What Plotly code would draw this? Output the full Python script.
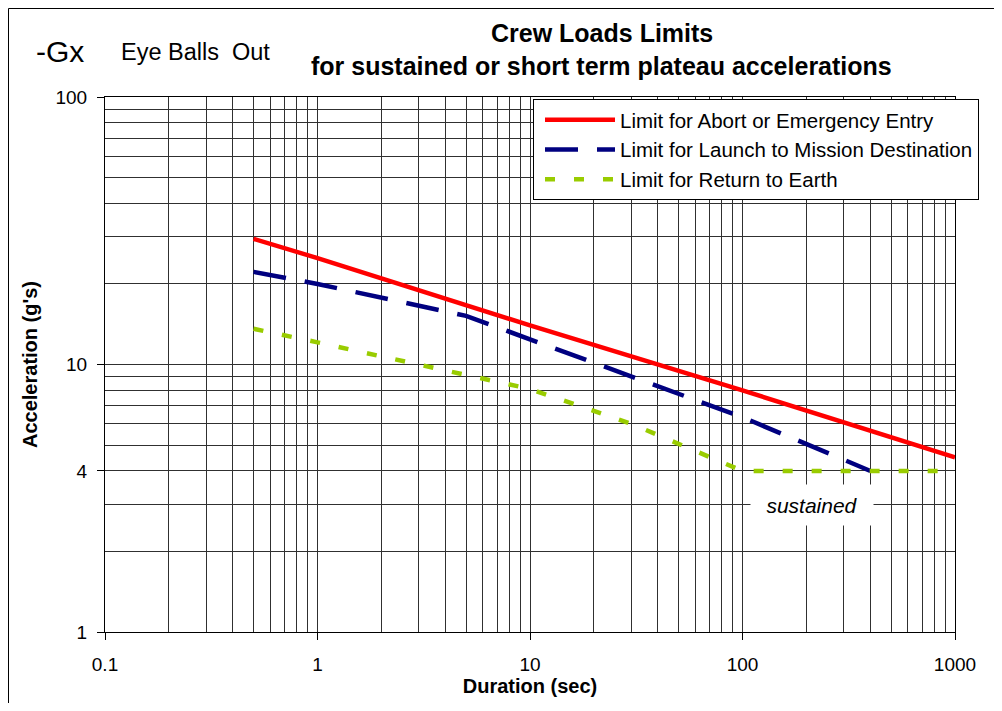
import plotly.graph_objects as go

# ---------------- data ----------------
dur_abort = [0.5, 1, 10, 100, 1000]
acc_abort = [29.5, 25, 14, 8, 4.5]

dur_launch = [0.5, 1, 5, 10, 100, 400]
acc_launch = [22.2, 20, 15.2, 12.4, 6.35, 4.0]

dur_return = [0.5, 1, 10, 30, 100, 1000]
acc_return = [13.6, 12.1, 8.1, 6.0, 4.0, 4.0]

names = ["Limit for Abort or Emergency Entry",
         "Limit for Launch to Mission Destination",
         "Limit for Return to Earth"]

x_ticks = [0.1, 1, 10, 100, 1000]
x_tick_text = ["0.1", "1", "10", "100", "1000"]
x_minor = [m * 10 ** e for e in range(-1, 3) for m in range(2, 10)]
y_ticks = [1, 4, 10, 100]
y_tick_text = ["1", "4", "10", "100"]
y_minor = [m * 10 ** e for e in range(0, 2) for m in range(2, 10)]

# ---------------- layout geometry ----------------
W, H = 986, 695
ML, MR, MT, MB = 97, 39, 89, 71
PW = W - ML - MR
PH = H - MT - MB


def px(fx):
    return (fx - ML) / PW


def py(fy):
    return (MT + PH - fy) / PH


FONT = "Liberation Sans, Arial, sans-serif"

fig = go.Figure()
fig.add_trace(go.Scatter(x=dur_abort, y=acc_abort, mode="lines", name=names[0],
                         line=dict(color="#FF0000", width=4.5)))
fig.add_trace(go.Scatter(x=dur_launch, y=acc_launch, mode="lines", name=names[1],
                         line=dict(color="#000080", width=4.5, dash="33px,19px")))
fig.add_trace(go.Scatter(x=dur_return, y=acc_return, mode="lines", name=names[2],
                         line=dict(color="#99CC00", width=4.5, dash="10px,19px")))

grid_col = "#303030"
fig.update_xaxes(type="log", range=[-1, 3], tickmode="array", tickvals=x_ticks,
                 ticktext=x_tick_text, ticks="outside", ticklen=7, tickcolor="black",
                 showgrid=True, gridcolor=grid_col, gridwidth=1,
                 minor=dict(tickmode="array", tickvals=x_minor, showgrid=True,
                            gridcolor=grid_col, gridwidth=1, ticks=""),
                 showline=True, linecolor="black", linewidth=1, mirror=True,
                 tickfont=dict(family=FONT, size=19, color="black"),
                 ticklabelstandoff=8,
                 title=dict(text="<b>Duration (sec)</b>", standoff=2,
                            font=dict(family=FONT, size=20, color="black")),
                 zeroline=False)
fig.update_yaxes(type="log", range=[0, 2], tickmode="array", tickvals=y_ticks,
                 ticktext=y_tick_text, ticks="outside", ticklen=7, tickcolor="black",
                 showgrid=True, gridcolor=grid_col, gridwidth=1,
                 minor=dict(tickmode="array", tickvals=y_minor, showgrid=True,
                            gridcolor=grid_col, gridwidth=1, ticks=""),
                 showline=True, linecolor="black", linewidth=1, mirror=True,
                 tickfont=dict(family=FONT, size=19, color="black"),
                 ticklabelstandoff=6,
                 title=dict(text="<b>Acceleration (g's)</b>", standoff=12,
                            font=dict(family=FONT, size=20, color="black")),
                 zeroline=False)

annotations = [
    dict(text="<b>Crew Loads Limits</b>", x=px(594), y=py(25), xanchor="center",
         yanchor="middle", font=dict(family=FONT, size=25, color="black")),
    dict(text="<b>for sustained or short term plateau accelerations</b>", x=px(593),
         y=py(58), xanchor="center", yanchor="middle",
         font=dict(family=FONT, size=25, color="black")),
    dict(text="-Gx", x=px(26), y=py(43), xanchor="left", yanchor="middle",
         font=dict(family=FONT, size=30, color="black")),
    dict(text="Eye Balls\u00a0 Out", x=px(111), y=py(44), xanchor="left",
         yanchor="middle", font=dict(family=FONT, size=23.5, color="black")),
    dict(text="<i>sustained</i>", x=px(804), y=py(497), xanchor="center",
         yanchor="middle", width=120, height=38, bgcolor="white",
         font=dict(family=FONT, size=21, color="black")),
]
for a in annotations:
    a.update(xref="paper", yref="paper", showarrow=False)

fig.update_layout(
    width=W, height=H,
    margin=dict(l=ML, r=MR, t=MT, b=MB, pad=0),
    paper_bgcolor="white", plot_bgcolor="white",
    font=dict(family=FONT, color="black"),
    showlegend=True,
    legend=dict(x=px(525), y=py(91), xanchor="left", yanchor="top",
                bgcolor="white", bordercolor="black", borderwidth=1,
                font=dict(family=FONT, size=20.5, color="black"),
                itemwidth=70, indentation=6),
    annotations=annotations,
    shapes=[dict(type="rect", xref="paper", yref="paper",
                 x0=px(0.5), y0=py(720), x1=px(1010), y1=py(0.5),
                 line=dict(color="black", width=1), fillcolor="rgba(0,0,0,0)",
                 layer="above")],
)

fig.write_html("out.html")
